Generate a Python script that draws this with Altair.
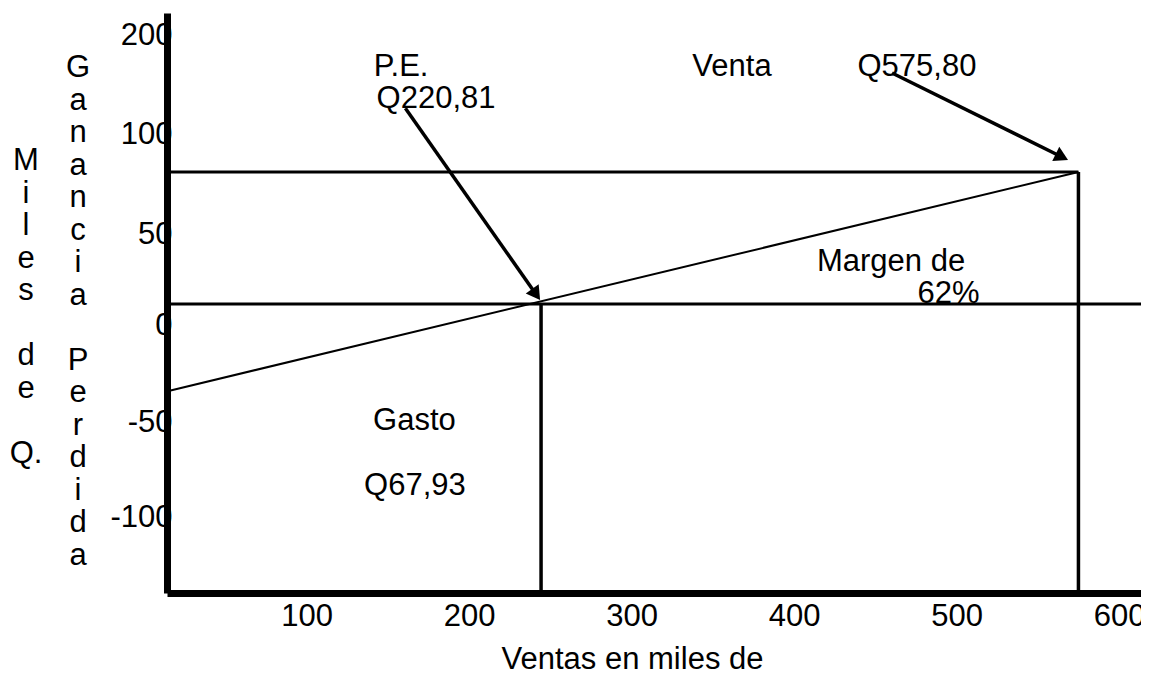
import math
import numpy as np
import pandas as pd
import altair as alt

FONT = "Liberation Sans"
FS = 31
LH = 32.5

# ---- axis texts / ticks ----
x_tick_values = [100, 200, 300, 400, 500, 600]
y_tick_values = [200, 100, 50, 0, -50, -100]
x_title = "Ventas en miles de"
y_title_1 = ["Miles", "de", "Q."]          # written one letter per line
y_title_2 = ["Ganancia", "Perdida"]

# ---- scales (the original is a hand-drawn schematic with evenly spaced y labels) ----
x_domain = [14.1, 613.5]
y_domain = [-140, -100, -50, 0, 50, 100, 200, 222]
y_range = [580, 504, 409, 312, 221, 121, 22, 0]
W, H = 974, 580

# ---- lines ----
h_x = [15, 15]
h_x2 = [575, 613.5]
h_y = [81, 11.5]

v_x = [244.3, 575]
v_y = [11.5, 81]
v_y2 = [-140, -140]

diag_x = [15]
diag_y = [-34]
diag_x2 = [575]
diag_y2 = [81]

arr_x = [160.8, 460.3]
arr_y = [126, 161.6]
arr_x2 = [243.7, 568.6]
arr_y2 = [13.7, 87]

# ---- annotations ----
ann_text = ["P.E.", "Q220,81", "Venta", "Q575,80", "Margen de", "62%", "Gasto", "Q67,93"]
ann_x = [158.2, 179.7, 361.8, 475.6, 459.7, 495.1, 166.4, 166.7]
ann_y = [167.7, 135.4, 167.7, 167.7, 34.6, 17.0, -49.5, -83.7]

# ---- arrow heads: orientation follows the arrow through the same scales ----
HEAD = 250
head_h = math.sqrt(3) / 4 * math.sqrt(HEAD)


def px(v):
    return (v - x_domain[0]) / (x_domain[1] - x_domain[0]) * W


def py(v):
    return float(np.interp(v, y_domain, y_range))


def inv_x(p):
    return x_domain[0] + p / W * (x_domain[1] - x_domain[0])


def inv_y(p):
    return float(np.interp(p, y_range[::-1], y_domain[::-1]))


head_x, head_y, head_angle, shaft_x2, shaft_y2 = [], [], [], [], []
for x0, y0, x1, y1 in zip(arr_x, arr_y, arr_x2, arr_y2):
    sx, sy, tx, ty = px(x0), py(y0), px(x1), py(y1)
    L = math.hypot(tx - sx, ty - sy)
    ux, uy = (tx - sx) / L, (ty - sy) / L
    head_angle.append(math.degrees(math.atan2(ux, -uy)) % 360)
    cx, cy = tx - head_h * ux, ty - head_h * uy
    head_x.append(inv_x(cx))
    head_y.append(inv_y(cy))
    shaft_x2.append(inv_x(cx))
    shaft_y2.append(inv_y(cy))

h_df = pd.DataFrame({"x": h_x, "x2": h_x2, "y": h_y})
v_df = pd.DataFrame({"x": v_x, "y": v_y, "y2": v_y2})
d_df = pd.DataFrame({"x": diag_x, "y": diag_y, "x2": diag_x2, "y2": diag_y2})
a_df = pd.DataFrame({"x": arr_x, "y": arr_y, "x2": shaft_x2, "y2": shaft_y2})
hd_df = pd.DataFrame({"x": head_x, "y": head_y, "angle": head_angle})
t_df = pd.DataFrame({"text": ann_text, "x": ann_x, "y": ann_y})
one = pd.DataFrame({"k": [0]})

xs = alt.Scale(domain=x_domain, range=[0, W], nice=False, zero=False)
ys = alt.Scale(domain=y_domain, range=y_range, nice=False, zero=False)

xaxis = alt.Axis(
    values=x_tick_values, title=x_title, grid=False, ticks=False, tickSize=0,
    domainWidth=7, domainColor="black", labelPadding=8, labelFont=FONT,
    labelFontSize=FS, labelColor="black", labelFlush=False, labelOverlap=False,
    labelLimit=0, labelExpr="'' + datum.value",
    titleFont=FONT, titleFontSize=FS, titleFontWeight="normal", titleColor="black",
    titleX=465, titleY=66, titleBaseline="middle", titleAlign="center",
)
yaxis = alt.Axis(
    values=y_tick_values, title=None, grid=False, ticks=False, tickSize=0,
    domainWidth=7, domainColor="black", labelPadding=-5, labelFont=FONT,
    labelFontSize=FS, labelColor="black", labelFlush=False, labelOverlap=False,
    labelLimit=0, labelBaseline="middle", labelExpr="'' + datum.value",
)


def X(f):
    return alt.X(f, type="quantitative", scale=xs, axis=xaxis)


def Y(f):
    return alt.Y(f, type="quantitative", scale=ys, axis=yaxis)


hlines = alt.Chart(h_df).mark_rule(color="black", strokeWidth=3).encode(
    x=X("x"), x2="x2", y=Y("y"))
vlines = alt.Chart(v_df).mark_rule(color="black", strokeWidth=3.5).encode(
    x=X("x"), y=Y("y"), y2="y2")
diag = alt.Chart(d_df).mark_rule(color="black", strokeWidth=2).encode(
    x=X("x"), y=Y("y"), x2="x2", y2="y2")
shafts = alt.Chart(a_df).mark_rule(color="black", strokeWidth=3.5).encode(
    x=X("x"), y=Y("y"), x2="x2", y2="y2")
heads = alt.Chart(hd_df).mark_point(
    shape="triangle-up", filled=True, size=HEAD, color="black", opacity=1
).encode(x=X("x"), y=Y("y"), angle=alt.Angle("angle:Q", scale=None))
texts = alt.Chart(t_df).mark_text(
    font=FONT, fontSize=FS, color="black", align="center", baseline="middle"
).encode(x=X("x"), y=Y("y"), text="text:N")


def vertical_title(words, x0, y0):
    """Each word written one letter per line, one blank line between words."""
    layers = []
    line = 0
    for w in words:
        chars = ["Q."] if w == "Q." else list(w)
        layers.append(
            alt.Chart(one).mark_text(
                font=FONT, fontSize=FS, color="black", align="center",
                baseline="top", lineHeight=LH
            ).encode(x=alt.value(x0), y=alt.value(y0 + line * LH), text=alt.value(chars))
        )
        line += len(chars) + 1
    return layers


cols = vertical_title(y_title_1, -141, 133) + vertical_title(y_title_2, -89, 40)

chart = alt.layer(hlines, vlines, diag, shafts, heads, texts, *cols).properties(
    width=W, height=H,
    padding={"left": 159, "top": 5, "right": 0, "bottom": 85},
    autosize=alt.AutoSizeParams(type="none"),
    background="white",
).configure_view(strokeOpacity=0)

chart.save("out.html", embed_options={"renderer": "svg", "actions": False})
